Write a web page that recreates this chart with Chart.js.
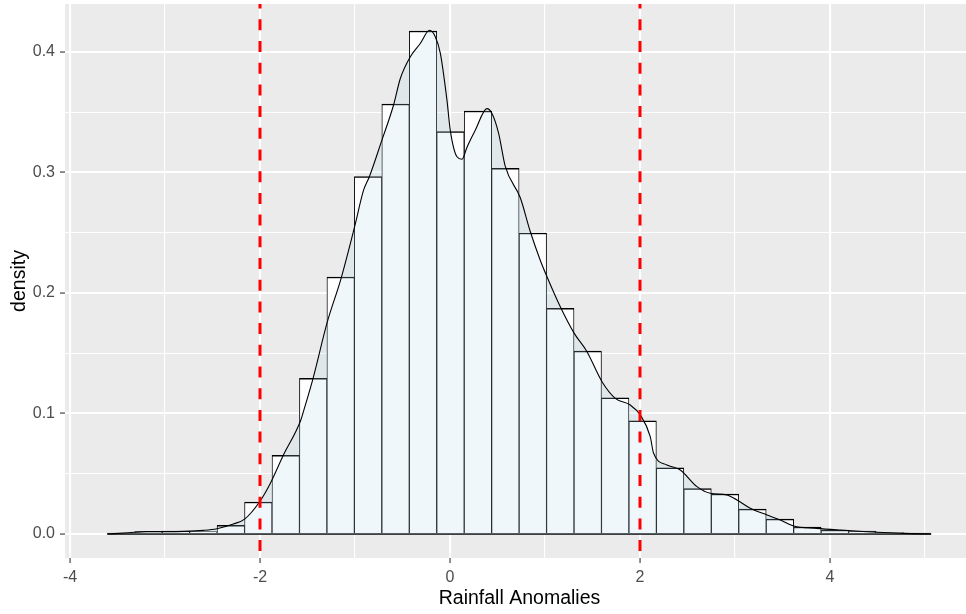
<!DOCTYPE html>
<html>
<head>
<meta charset="utf-8">
<script src="https://cdn.jsdelivr.net/npm/chart.js@4.4.0/dist/chart.umd.min.js"></script>
<style>
  html, body { margin: 0; padding: 0; overflow: hidden; background: #fff; }
  canvas { display: block; }
</style>
</head>
<body>
<canvas id="canvas" width="974" height="614"></canvas>
<script>
// histogram bins (centres) and their density heights
const histCenters = [-3.463, -3.174, -2.885, -2.596, -2.307, -2.018, -1.729, -1.440, -1.151, -0.862,
  -0.573, -0.284, 0.005, 0.294, 0.583, 0.872, 1.161, 1.450, 1.739, 2.028,
  2.317, 2.606, 2.895, 3.184, 3.473, 3.762, 4.051, 4.340, 4.629, 4.918];
const histDensity = [0.0005, 0.002, 0.0025, 0.002, 0.0072, 0.0266, 0.0653, 0.1292, 0.2133, 0.2965,
  0.3568, 0.4174, 0.334, 0.351, 0.3035, 0.2498, 0.1873, 0.1517, 0.1131, 0.094,
  0.055, 0.0376, 0.0332, 0.0207, 0.0124, 0.0058, 0.0033, 0.0025, 0.0012, 0.0005];

// kernel density curve
const densX = [-3.605, -3.386, -3.197, -2.997, -2.797, -2.597, -2.453, -2.281, -2.162, -2.004,
  -1.892, -1.757, -1.570, -1.534, -1.442, -1.295, -1.147, -1.004, -0.909, -0.849,
  -0.716, -0.594, -0.523, -0.418, -0.313, -0.215, -0.155, -0.102, -0.032, 0.003,
  0.074, 0.126, 0.179, 0.266, 0.389, 0.442, 0.512, 0.582, 0.740, 0.845,
  0.951, 1.021, 1.161, 1.308, 1.442, 1.600, 1.740, 1.898, 2.003, 2.108,
  2.143, 2.284, 2.424, 2.600, 2.740, 2.916, 3.021, 3.161, 3.337, 3.477,
  3.617, 3.863, 4.108, 4.389, 4.635, 4.775, 5.066];
const densY = [0, 0.001, 0.002, 0.002, 0.0022, 0.003, 0.0044, 0.0083, 0.0124, 0.0268,
  0.042, 0.065, 0.0946, 0.104, 0.129, 0.175, 0.212, 0.255, 0.2855, 0.2965,
  0.327, 0.356, 0.378, 0.396, 0.407, 0.418, 0.4127, 0.399, 0.360, 0.335,
  0.313, 0.311, 0.321, 0.335, 0.353, 0.349, 0.3325, 0.305, 0.279, 0.251,
  0.227, 0.2135, 0.1886, 0.1665, 0.1513, 0.1264, 0.1126, 0.107, 0.0988, 0.0808,
  0.067, 0.0573, 0.0531, 0.0393, 0.0338, 0.0324, 0.0282, 0.0213, 0.0158, 0.0116,
  0.0066, 0.0047, 0.0033, 0.0019, 0.001, 0.0005, 0];

const xMajor = [-4, -2, 0, 2, 4];
const xMinor = [-3, -1, 1, 3, 5];
const yMajor = [0, 0.1, 0.2, 0.3, 0.4];
const yMinor = [0.05, 0.15, 0.25, 0.35];
const vlines = [-2, 2];

const FONT = '"Liberation Sans", Arial, sans-serif';
const isIn = (list, v) => list.some((m) => Math.abs(m - v) < 1e-9);
const tickVal = (c) => (c && c.tick ? c.tick.value : NaN);

const binWidth = histCenters[1] - histCenters[0];
const baseline = [
  { x: histCenters[0] - binWidth / 2, y: 0 },
  { x: histCenters[histCenters.length - 1] + binWidth / 2, y: 0 }
];

const panelBg = {
  id: "panelBg",
  beforeDraw(chart) {
    const { ctx, chartArea: a } = chart;
    ctx.save();
    ctx.fillStyle = "#EBEBEB";
    ctx.fillRect(a.left, a.top, a.right - a.left, a.bottom - a.top);
    ctx.restore();
  }
};

const vlinePlugin = {
  id: "vlines",
  afterDatasetsDraw(chart) {
    const { ctx, chartArea: a, scales } = chart;
    ctx.save();
    ctx.strokeStyle = "#FF0000";
    ctx.lineWidth = 3;
    ctx.setLineDash([11, 10.7]);
    ctx.lineDashOffset = 6.4;
    vlines.forEach((v) => {
      const px = scales.x.getPixelForValue(v);
      ctx.beginPath();
      ctx.moveTo(px, a.top);
      ctx.lineTo(px, a.bottom);
      ctx.stroke();
    });
    ctx.restore();
  }
};

const gridOpts = (major) => ({
  offset: false,
  color: "#FFFFFF",
  lineWidth: (c) => (isIn(major, tickVal(c)) ? 2.1 : 1.1),
  tickColor: (c) => (isIn(major, tickVal(c)) ? "#333333" : "rgba(0,0,0,0)"),
  tickLength: 5,
  tickWidth: 1.1,
  drawTicks: true
});

const canvas = document.getElementById("canvas");
new Chart(canvas, {
  type: "bar",
  data: {
    datasets: [
      {
        type: "line",
        data: densX.map((x, i) => ({ x, y: densY[i] })),
        borderColor: "#000000",
        borderWidth: 1.1,
        backgroundColor: "rgba(173,216,230,0.2)",
        fill: "origin",
        pointRadius: 0,
        cubicInterpolationMode: "monotone",
        order: 0
      },
      {
        type: "line",
        data: baseline,
        borderColor: "#000000",
        borderWidth: 1.3,
        pointRadius: 0,
        fill: false,
        order: 1
      },
      {
        type: "bar",
        data: histCenters.map((x, i) => ({ x, y: histDensity[i] })),
        backgroundColor: "#FFFFFF",
        borderColor: "#000000",
        borderWidth: { top: 1.5, left: 0.95, right: 0.95, bottom: 0 },
        borderSkipped: false,
        barPercentage: 1,
        categoryPercentage: 1,
        order: 2
      }
    ]
  },
  options: {
    responsive: false,
    animation: false,
    devicePixelRatio: 1,
    layout: { padding: { top: 4, left: 0, right: 0, bottom: 0 } },
    plugins: { legend: { display: false }, tooltip: { enabled: false } },
    scales: {
      x: {
        type: "linear",
        offset: false,
        min: -4.0526,
        max: 5.5158,
        afterBuildTicks: (s) => {
          s.ticks = [...xMajor, ...xMinor].sort((a, b) => a - b).map((v) => ({ value: v }));
        },
        afterFit: (s) => { s.height = 56; s.paddingLeft = 0; s.paddingRight = 0; },
        grid: gridOpts(xMajor),
        border: { display: false },
        ticks: {
          autoSkip: false,
          maxRotation: 0,
          padding: 5,
          color: "#4D4D4D",
          font: { family: FONT, size: 16 },
          callback: (v) => (isIn(xMajor, v) ? String(v) : "")
        },
        title: {
          display: true,
          text: "Rainfall Anomalies",
          color: "#000000",
          font: { family: FONT, size: 19.5, lineHeight: 1.2 },
          padding: { top: 0, bottom: 4 }
        }
      },
      y: {
        type: "linear",
        min: -0.0199,
        max: 0.4398,
        afterBuildTicks: (s) => {
          s.ticks = [...yMajor, ...yMinor].sort((a, b) => a - b).map((v) => ({ value: v }));
        },
        afterFit: (s) => { s.width = 65; s.paddingTop = 0; s.paddingBottom = 0; },
        grid: gridOpts(yMajor),
        border: { display: false },
        ticks: {
          autoSkip: false,
          padding: 5,
          color: "#4D4D4D",
          font: { family: FONT, size: 16 },
          callback: (v) => (isIn(yMajor, v) ? v.toFixed(1) : "")
        },
        title: {
          display: true,
          text: "density",
          color: "#000000",
          font: { family: FONT, size: 19.5, lineHeight: 1.2 },
          padding: { top: 8, bottom: 0 }
        }
      }
    }
  },
  plugins: [panelBg, vlinePlugin]
});
</script>
</body>
</html>
